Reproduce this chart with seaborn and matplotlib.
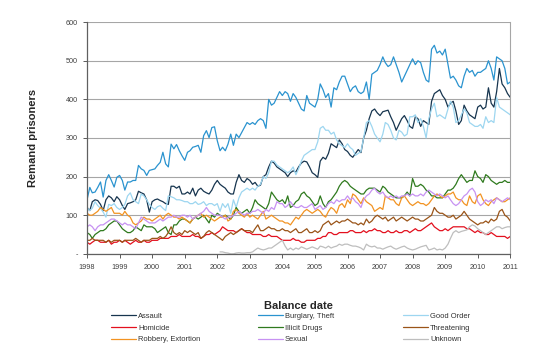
import numpy as np
import pandas as pd
import matplotlib
matplotlib.use("Agg")
import matplotlib.pyplot as plt
import matplotlib.dates as mdates
import seaborn as sns

# monthly balance dates, Jan 1998 - Jan 2011
dates = pd.date_range("1998-01-01", "2011-01-01", freq="MS")

assault = [
    120, 112, 135, 140, 138, 128, 112, 140, 150, 145, 135, 148,
    140, 125, 115, 130, 132, 135, 140, 162, 158, 155, 140, 108,
    135, 140, 142, 138, 135, 130, 128, 175, 175, 170, 175, 155,
    155, 160, 155, 170, 150, 165, 170, 162, 158, 155, 165, 180,
    190, 180, 175, 170, 160, 155, 155, 185, 205, 190, 185, 195,
    190, 180, 185, 175, 178, 200, 205, 225, 240, 235, 225, 220,
    215, 210, 200, 210, 215, 212, 225, 235, 240, 238, 225, 210,
    205, 198, 240, 250, 245, 260, 285, 280, 275, 295, 285, 270,
    265, 255, 250, 260, 270, 262, 300, 320, 350, 370, 375, 365,
    358, 368, 370, 372, 355, 340, 320, 335, 350, 358, 345, 330,
    325, 355, 350, 330, 345, 340, 335, 395, 415, 420, 425, 410,
    400, 380, 390, 395, 370, 335, 345, 385, 370, 360, 355, 350,
    380, 385, 375, 380, 430, 390, 380, 420, 480, 440, 430, 415,
    405]
burglary = [
    140, 172, 158, 160, 172, 186, 147, 190, 205, 190, 173, 198,
    203, 190, 165, 186, 186, 190, 190, 229, 220, 216, 203, 216,
    218, 220, 229, 237, 263, 233, 225, 284, 272, 283, 267, 254,
    242, 263, 267, 276, 278, 281, 263, 306, 319, 301, 327, 329,
    293, 267, 276, 267, 284, 310, 281, 310, 301, 314, 327, 340,
    335, 340, 335, 345, 350, 345, 325, 400, 385, 390, 405, 420,
    410, 420, 415, 395, 415, 405, 390, 375, 370, 410, 390, 385,
    380, 400, 440, 425, 405, 415, 380, 430, 425, 445, 460, 460,
    440, 420, 430, 435, 420, 415, 420, 445, 400, 465, 470, 475,
    490, 510, 495, 485, 490, 510, 490, 470, 445, 460, 475, 490,
    505, 490, 500, 495, 470, 450, 445, 530, 540, 520, 525, 515,
    530, 490, 455, 460, 450, 435, 430, 460, 480, 470, 475, 460,
    470, 470, 475, 480, 500, 480, 450, 510, 505, 500, 480, 440,
    445]
good_order = [
    120, 112, 118, 135, 125, 118, 108, 95, 128, 125, 130, 120,
    115, 120, 128, 150, 158, 140, 135, 130, 155, 150, 140, 128,
    120, 115, 122, 125, 118, 112, 150, 148, 145, 140, 140, 138,
    135, 135, 130, 130, 135, 128, 130, 135, 125, 130, 130, 125,
    130, 110, 130, 120, 130, 105, 140, 120, 145, 160, 165, 170,
    165, 170, 165, 175, 180, 200, 195, 210, 240, 240, 230, 225,
    220, 215, 210, 215, 225, 205, 220, 240, 255, 260, 265, 270,
    270, 290, 325, 330, 320, 320, 310, 315, 295, 285, 280, 275,
    285, 275, 270, 255, 260, 265, 300, 340, 345, 330, 310, 300,
    290, 310, 340, 335, 320, 300, 295, 320, 315, 305, 310, 355,
    355, 360, 340, 350, 330, 300, 350, 375, 390, 355, 360, 355,
    350, 375, 395, 380, 340, 345, 360, 375, 365, 340, 335, 330,
    330, 335, 325, 355, 340, 345, 340, 405, 380, 375, 370, 365,
    360]
homicide = [
    30, 25, 30, 35, 35, 30, 30, 30, 35, 25, 30, 30,
    35, 30, 35, 30, 25, 30, 35, 30, 30, 35, 30, 30,
    35, 35, 35, 40, 40, 40, 40, 45, 45, 45, 50, 45,
    45, 45, 45, 50, 45, 45, 40, 45, 50, 50, 55, 50,
    55, 60, 70, 65, 60, 60, 60, 55, 60, 65, 60, 55,
    55, 50, 50, 50, 50, 45, 45, 50, 45, 45, 45, 40,
    35, 35, 35, 35, 40, 35, 35, 30, 30, 35, 35, 35,
    35, 40, 40, 45, 45, 55, 55, 50, 50, 55, 55, 55,
    55, 60, 60, 55, 55, 55, 60, 55, 60, 60, 65, 60,
    60, 55, 55, 60, 55, 55, 60, 55, 55, 60, 60, 55,
    60, 65, 60, 60, 65, 70, 75, 80, 70, 65, 60, 60,
    65, 60, 65, 70, 70, 70, 70, 70, 65, 65, 60, 55,
    60, 55, 55, 50, 50, 55, 50, 45, 45, 45, 45, 40,
    45]
illicit_drugs = [
    55, 50, 40, 50, 55, 60, 60, 65, 75, 80, 85, 85,
    75, 65, 60, 55, 55, 60, 70, 65, 60, 75, 70, 70,
    70, 65, 55, 60, 65, 70, 55, 50, 75, 75, 85, 90,
    90, 85, 80, 90, 95, 90, 95, 100, 90, 80, 100, 95,
    105, 100, 95, 100, 95, 90, 100, 120, 110, 105, 110, 115,
    105, 120, 140, 130, 125, 120, 115, 130, 160, 150, 140, 135,
    140, 130, 150, 120, 125, 135, 140, 155, 160, 150, 145, 135,
    125, 130, 150, 130, 120, 135, 140, 150, 160, 175, 185, 190,
    185, 175, 170, 165, 160, 155, 155, 165, 170, 170, 170, 165,
    160, 175, 170, 160, 155, 150, 145, 145, 145, 150, 160, 150,
    195, 175, 175, 180, 175, 165, 160, 150, 150, 145, 145, 145,
    155, 165, 165, 170, 180, 195, 205, 195, 185, 190, 190, 215,
    200, 195, 185, 205, 200, 190, 185, 180, 185, 185, 190, 185,
    185]
threatening = [
    35, 35, 40, 35, 35, 35, 35, 30, 35, 30, 35, 35,
    35, 30, 35, 35, 35, 35, 40, 35, 30, 35, 35, 35,
    40, 40, 40, 45, 40, 45, 55, 70, 55, 50, 55, 50,
    60, 55, 60, 55, 50, 55, 40, 45, 55, 60, 55, 50,
    45, 40, 35, 45, 50, 55, 50, 55, 60, 65, 60, 60,
    60, 55, 65, 75, 60, 60, 65, 70, 65, 65, 60, 60,
    65, 60, 60, 55, 60, 65, 55, 55, 60, 65, 55, 55,
    60, 55, 60, 75, 80, 85, 75, 80, 85, 80, 85, 85,
    90, 85, 80, 80, 75, 80, 75, 90, 80, 85, 95, 100,
    95, 90, 95, 85, 90, 95, 85, 90, 95, 90, 85, 90,
    95, 90, 90, 85, 85, 90, 95, 100, 120, 110, 105, 105,
    100, 95, 95, 100, 90, 95, 100, 110, 100, 90, 85, 80,
    75, 80, 80, 85, 80, 90, 85, 90, 110, 115, 100, 95,
    85]
robbery = [
    105, 100, 100, 105, 110, 120, 115, 110, 115, 120, 105, 105,
    105, 100, 110, 100, 95, 80, 75, 80, 85, 95, 90, 90,
    85, 90, 95, 100, 90, 100, 105, 100, 95, 95, 90, 95,
    90, 85, 80, 90, 95, 100, 105, 95, 100, 95, 90, 85,
    90, 95, 95, 100, 85, 90, 110, 115, 105, 100, 95, 105,
    95, 100, 95, 90, 100, 110, 90, 95, 100, 95, 90, 85,
    85, 80, 80, 75, 85, 95, 90, 100, 110, 115, 110, 105,
    110, 115, 110, 100, 95, 110, 120, 115, 105, 125, 130, 120,
    140, 130, 155, 150, 140, 130, 145, 135, 130, 125, 110, 115,
    120, 115, 150, 145, 140, 140, 130, 125, 145, 150, 140, 130,
    125, 130, 135, 130, 130, 125, 130, 140, 150, 155, 150, 145,
    150, 155, 155, 160, 145, 140, 140, 130, 125, 150, 135, 130,
    150, 155, 140, 130, 125, 135, 140, 145, 140, 135, 135, 140,
    145]
sexual = [
    70, 75, 70, 60, 70, 75, 75, 80, 85, 90, 90, 85,
    80, 75, 80, 75, 75, 70, 65, 80, 95, 90, 85, 80,
    80, 80, 85, 90, 85, 90, 95, 95, 100, 95, 95, 100,
    100, 95, 100, 90, 95, 100, 105, 110, 120, 110, 105, 100,
    100, 100, 95, 90, 95, 95, 100, 105, 110, 105, 100, 105,
    105, 110, 110, 115, 110, 105, 115, 110, 120, 115, 135, 130,
    130, 120, 125, 135, 125, 120, 120, 125, 120, 120, 125, 130,
    115, 120, 125, 115, 120, 130, 135, 130, 140, 135, 140, 140,
    150, 140, 145, 135, 130, 120, 140, 150, 155, 165, 170, 160,
    155, 160, 150, 145, 150, 145, 150, 145, 150, 150, 155, 150,
    155, 150, 150, 155, 150, 160, 165, 160, 155, 150, 155, 150,
    145, 150, 140, 130, 125, 130, 140, 150, 155, 165, 170, 160,
    135, 125, 130, 140, 135, 140, 130, 145, 140, 135, 140, 145,
    140]
# no "unknown" category before Feb 2002
unknown = [np.nan] * 49 + [
    5, 5, 3, 2, 0, 0, 2, 3, 2, 2, 3,
    3, 5, 10, 15, 12, 10, 12, 15, 15, 20, 25, 30,
    35, 20, 10, 15, 10, 15, 12, 18, 15, 12, 15, 18,
    15, 12, 20, 18, 15, 20, 15, 18, 20, 25, 22, 25,
    25, 22, 20, 20, 18, 15, 10, 25, 20, 18, 20, 15,
    15, 12, 15, 18, 20, 15, 12, 15, 18, 20, 15, 12,
    10, 12, 15, 18, 20, 22, 10, 12, 15, 10, 12, 10,
    15, 25, 40, 55, 60, 55, 58, 60, 62, 70, 75, 72,
    65, 60, 55, 50, 55, 60, 65, 70, 70, 65, 68, 70,
    70]

series = {
    "Assault": assault,
    "Burglary, Theft": burglary,
    "Good Order": good_order,
    "Homicide": homicide,
    "Illicit Drugs": illicit_drugs,
    "Threatening": threatening,
    "Robbery, Extortion": robbery,
    "Sexual": sexual,
    "Unknown": unknown,
}
colors = {
    "Assault": "#17354F",
    "Burglary, Theft": "#2A93CF",
    "Good Order": "#9DD6F0",
    "Homicide": "#E3101E",
    "Illicit Drugs": "#2F7A1E",
    "Threatening": "#9A5418",
    "Robbery, Extortion": "#F29322",
    "Sexual": "#C792F2",
    "Unknown": "#BEBEBE",
}

df = pd.concat(
    [pd.DataFrame({"date": dates, "value": vals, "offence": name})
     for name, vals in series.items()],
    ignore_index=True)

sns.set_style("white")
plt.rcParams["font.family"] = ["Liberation Sans", "DejaVu Sans"]

fig = plt.figure(figsize=(5.44, 3.57), dpi=100)
ax = fig.add_axes([0.160, 0.289, 0.778, 0.649])

for name in series:
    sub = df[df["offence"] == name]
    sns.lineplot(data=sub, x="date", y="value", color=colors[name],
                 lw=0.9, ax=ax, label=name, legend=False)

ax.set_xlim(dates[0], dates[-1])
ax.set_ylim(0, 600)
ax.set_yticks(range(0, 601, 100))
ax.set_yticklabels(["-"] + [str(v) for v in range(100, 601, 100)])
ax.xaxis.set_major_locator(mdates.YearLocator())
ax.xaxis.set_major_formatter(mdates.DateFormatter("%Y"))
ax.grid(axis="y", color="#A6A6A6", lw=0.8)
ax.grid(axis="x", visible=False)
ax.tick_params(labelsize=5.2, colors="#404040", length=3, width=0.6,
               direction="out", bottom=True, left=True)
ax.tick_params(axis="x", pad=4)
for side in ["left", "bottom"]:
    ax.spines[side].set_color("#606060")
    ax.spines[side].set_linewidth(0.9)
ax.spines["right"].set_color("#A6A6A6")
ax.spines["right"].set_linewidth(0.8)
ax.spines["top"].set_visible(False)

ax.set_xlabel("Balance date", fontsize=8, fontweight="bold")
ax.set_ylabel("Remand prisoners", fontsize=8, fontweight="bold")
ax.xaxis.set_label_coords(0.5, -0.205)
ax.yaxis.set_label_coords(-0.115, 0.5)

# three legend columns, filled row by row as in the original
handles, labels = ax.get_legend_handles_labels()
lookup = dict(zip(labels, handles))
names = list(series)
for col, x0 in enumerate([0.204, 0.474, 0.741]):
    col_names = names[col::3]
    leg = fig.legend([lookup[n] for n in col_names], col_names,
                     loc="upper left", bbox_to_anchor=(x0, 0.124),
                     frameon=False, fontsize=5.4, handlelength=3.3,
                     handletextpad=0.3, labelspacing=0.6,
                     borderpad=0, borderaxespad=0)
    for t in leg.get_texts():
        t.set_color("#303030")

fig.savefig("out.png", dpi=100)
